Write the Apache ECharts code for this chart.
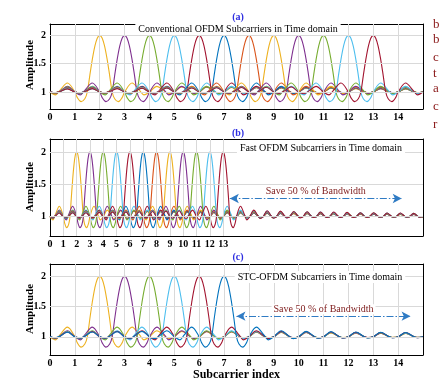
<!DOCTYPE html>
<html><head><meta charset="utf-8">
<script src="https://cdn.jsdelivr.net/npm/echarts@6/dist/echarts.min.js"></script>
<style>html,body{margin:0;padding:0;background:#fff}#c{width:446px;height:390px}</style>
</head><body><div id="c"></div>
<script>
// ---- data ----
const xTicksA = [0,1,2,3,4,5,6,7,8,9,10,11,12,13,14];
const xTicksB = [0,1,2,3,4,5,6,7,8,9,10,11,12,13];
const xTicksC = [0,1,2,3,4,5,6,7,8,9,10,11,12,13,14];
const yTicks = [1, 1.5, 2];
const xMaxA = 15, xMaxB = 28, xMaxC = 15;
const centersA = [2,3,4,5,6,7,8,9,10,11,12,13];
const centersB = [2,3,4,5,6,7,8,9,10,11,12,13];
const centersC = [2,3,4,5,6,7];
const palette = ['#EDB120','#7E2F8E','#77AC30','#4DBEEE','#A2142F','#0072BD','#D95319'];
// one subcarrier pulse (offset from its centre -> amplitude), symmetric, main lobe part
const pulseOffsets = [0, 0.1, 0.2, 0.3, 0.4, 0.5, 0.6, 0.75, 0.9, 1.0];
const pulseValues  = [2.0, 1.95, 1.8, 1.57, 1.29, 1.0, 0.88, 0.83, 0.9, 1.0];
// side lobes per unit period n = 1..27 : peak at n+0.3, mid at n+0.6, dip at n+0.78, 1 at n+1
const tailPeak = [1.16,1.10,1.09,1.085,1.08,1.075,1.07,1.07,1.065,1.06,1.06,1.055,1.055,1.05,1.05,1.05,1.045,1.045,1.045,1.04,1.04,1.04,1.04,1.035,1.035,1.035,1.035];
const tailMid  = [1.03,1.015,1.012,1.01,1.01,1.01,1.01,1.01,1.008,1.008,1.008,1.008,1.008,1.006,1.006,1.006,1.006,1.006,1.006,1.005,1.005,1.005,1.005,1.005,1.005,1.005,1.005];
const tailDip  = [0.95,0.97,0.975,0.98,0.98,0.985,0.985,0.985,0.988,0.988,0.99,0.99,0.99,0.99,0.99,0.992,0.992,0.992,0.992,0.993,0.993,0.993,0.993,0.994,0.994,0.994,0.994];
const tailPhase = [0.3, 0.6, 0.78, 1.0];
// annotation arrows [x0, x1, y]
const arrowB = [13.5, 26.4, 1.28];
const arrowC = [7.5, 14.5, 1.34];

function pulse(center, xmax) {
  const pts = [];
  const add = (t, v) => { const x = center + t; if (x >= -1e-9 && x <= xmax + 1e-9) pts.push([+x.toFixed(4), v]); };
  pulseOffsets.forEach((t, i) => { add(t, pulseValues[i]); if (t > 0) add(-t, pulseValues[i]); });
  tailPeak.forEach((p, i) => {
    const n = i + 1;
    const vals = [p, tailMid[i], tailDip[i], 1.0];
    tailPhase.forEach((ph, j) => { add(n + ph, vals[j]); add(-(n + ph), vals[j]); });
  });
  pts.sort((a, b) => a[0] - b[0]);
  return pts;
}

const FONT = 'Liberation Serif';
const grids = [
  {left: 50, right: 23, top: 24, height: 85},
  {left: 50, right: 23, top: 139, height: 97},
  {left: 50, right: 23, top: 264, height: 91}
];
const panels = [
  {centers: centersA, xmax: xMaxA, ticks: xTicksA, vgrid: xTicksA.slice(1)},
  {centers: centersB, xmax: xMaxB, ticks: xTicksB, vgrid: xTicksB.slice(1)},
  {centers: centersC, xmax: xMaxC, ticks: xTicksC, vgrid: xTicksC.slice(1)}
];
const xAxes = [], yAxes = [], series = [];
panels.forEach((p, g) => {
  const xi = xAxes.length, yi = yAxes.length;
  xAxes.push({gridIndex: g, type: 'value', min: 0, max: p.xmax, position: 'bottom',
    axisLine: {onZero: false, lineStyle: {color: '#000', width: 1}},
    axisTick: {inside: true, length: 3, customValues: p.ticks, lineStyle: {color: '#000'}},
    axisLabel: {customValues: p.ticks, color: '#000', fontFamily: FONT, fontWeight: 'bold', fontSize: 10, margin: 3},
    splitLine: {show: false},
    name: g === 2 ? 'Subcarrier index' : '', nameLocation: 'middle', nameGap: 14,
    nameTextStyle: {color: '#000', fontFamily: FONT, fontWeight: 'bold', fontSize: 12}});
  xAxes.push({gridIndex: g, type: 'value', min: 0, max: p.xmax, position: 'top',
    axisLine: {onZero: false, lineStyle: {color: '#000', width: 1}},
    axisTick: {inside: true, length: 3, customValues: p.ticks, lineStyle: {color: '#000'}},
    axisLabel: {show: false}, splitLine: {show: false}});
  yAxes.push({gridIndex: g, type: 'value', min: 0.7, max: 2.2, position: 'left',
    axisLine: {onZero: false, lineStyle: {color: '#000', width: 1}},
    axisTick: {inside: true, length: 3, customValues: yTicks, lineStyle: {color: '#000'}},
    axisLabel: {customValues: yTicks, color: '#000', fontFamily: FONT, fontWeight: 'bold', fontSize: 10, margin: 4},
    splitLine: {show: false}});
  yAxes.push({gridIndex: g, type: 'value', min: 0.7, max: 2.2, position: 'right',
    axisLine: {onZero: false, lineStyle: {color: '#000', width: 1}},
    axisTick: {inside: true, length: 3, customValues: yTicks, lineStyle: {color: '#000'}},
    axisLabel: {show: false}, splitLine: {show: false}});
  // grid lines
  series.push({type: 'line', xAxisIndex: xi, yAxisIndex: yi, data: [], silent: true, z: 1,
    markLine: {silent: true, symbol: 'none', animation: false, label: {show: false},
      lineStyle: {color: '#d9d9d9', width: 1, type: 'solid'},
      data: p.vgrid.map(v => ({xAxis: v})).concat(yTicks.map(v => ({yAxis: v})))}});
  p.centers.forEach((c, i) => {
    series.push({type: 'line', xAxisIndex: xi, yAxisIndex: yi, data: pulse(c, p.xmax),
      smooth: 0.35, showSymbol: false, symbol: 'none', z: 3, animation: false,
      lineStyle: {color: palette[i % palette.length], width: 1.1}});
  });
  const arr = g === 1 ? arrowB : g === 2 ? arrowC : null;
  if (arr) {
    series.push({type: 'line', xAxisIndex: xi, yAxisIndex: yi, data: [], z: 4,
      markLine: {silent: true, animation: false, symbol: ['arrow', 'arrow'], symbolSize: [7, 9],
        lineStyle: {color: '#2f7bc4', width: 1.2, type: [7, 2, 1.5, 2]},
        label: {show: true, position: 'insideMiddleTop', distance: 2, formatter: 'Save 50 % of Bandwidth',
          color: '#7d1a1a', fontFamily: FONT, fontSize: 10, backgroundColor: '#fff', padding: [0, 2]},
        data: [[{coord: [arr[0], arr[2]]}, {coord: [arr[1], arr[2]]}]]}});
  }
});

const txt = (x, y, s, o) => ({type: 'text', x, y, z: 10, style: Object.assign({text: s, fill: '#000', font: '10px "Liberation Serif"', textAlign: 'center', textVerticalAlign: 'middle'}, o || {})});
const boxed = {backgroundColor: '#fff', padding: [1, 3]};
const sideLetters = ['b','b','c','t','a','c','r'];
const sideY = [25, 40, 58, 74, 89, 107, 125];
const ampY = [65, 187, 309];
const graphic = [
  txt(238, 17, '(a)', {fill: '#2e2ee0', font: 'bold 10px "Liberation Serif"'}),
  txt(238, 29, 'Conventional OFDM Subcarriers in Time domain', boxed),
  txt(238, 133, '(b)', {fill: '#2e2ee0', font: 'bold 10px "Liberation Serif"'}),
  txt(321, 148, 'Fast OFDM Subcarriers in Time domain', boxed),
  txt(238, 257, '(c)', {fill: '#2e2ee0', font: 'bold 10px "Liberation Serif"'}),
  txt(320, 277, 'STC-OFDM Subcarriers in Time domain', boxed)
].concat(ampY.map(y => Object.assign(txt(30, y, 'Amplitude', {font: 'bold 11px "Liberation Serif"'}), {rotation: Math.PI / 2})))
 .concat(sideLetters.map((l, i) => txt(433, sideY[i], l, {fill: '#8b1a1a', font: '13px "Liberation Serif"', textAlign: 'left'})));

const chart = echarts.init(document.getElementById('c'), null, {renderer: 'canvas'});
chart.setOption({animation: false, backgroundColor: '#fff', grid: grids, xAxis: xAxes, yAxis: yAxes, series, graphic});
</script></body></html>
